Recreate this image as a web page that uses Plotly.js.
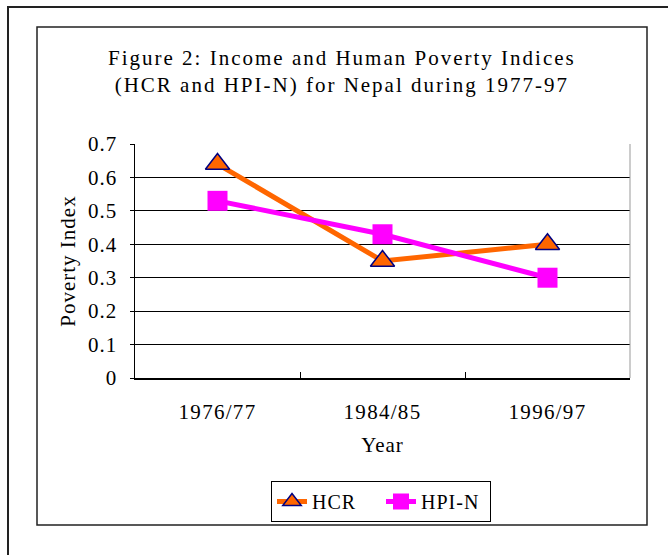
<!DOCTYPE html>
<html>
<head>
<meta charset="utf-8">
<script src="https://cdn.plot.ly/plotly-3.0.1.min.js"></script>
<style>
html,body{margin:0;padding:0;background:#fff;}
#chart{width:668px;height:555px;}
#chart .annotation-text{letter-spacing:2px;}
#chart .xtick text{letter-spacing:1.3px;}
#chart .ytick text{letter-spacing:1px;}
#chart .g-ytitle text, #chart .g-xtitle text{letter-spacing:1px;}
#chart .legendtext{letter-spacing:1px;}
</style>
</head>
<body>
<div id="chart"></div>
<script>
const years = ["1976/77", "1984/85", "1996/97"];
const hcr = [0.64, 0.35, 0.40];
const hpin = [0.53, 0.43, 0.30];
const yTicks = [0, 0.1, 0.2, 0.3, 0.4, 0.5, 0.6, 0.7];
const yTickText = ["0", "0.1", "0.2", "0.3", "0.4", "0.5", "0.6", "0.7"];

const L = 135, R = 630, T = 144, B = 378, W = 668, H = 555;
const px = v => (v - L) / (R - L);
const py = v => (B - v) / (B - T);
const FONT = "Liberation Serif, DejaVu Serif, serif";

const traces = [
  {
    x: years, y: hcr, name: "HCR", type: "scatter", mode: "lines+markers",
    line: {color: "#FF6600", width: 5},
    marker: {symbol: "triangle-up", size: 21, color: "#FF6600", line: {color: "#000080", width: 1.5}}
  },
  {
    x: years, y: hpin, name: "HPI-N", type: "scatter", mode: "lines+markers",
    line: {color: "#FF00FF", width: 5},
    marker: {symbol: "square", size: 20, color: "#FF00FF", line: {color: "#FF00FF", width: 0}}
  }
];

const layout = {
  width: W, height: H,
  margin: {l: L, r: W - R, t: T, b: H - B, pad: 0},
  paper_bgcolor: "#fff", plot_bgcolor: "#fff",
  font: {family: FONT, color: "#000", size: 21},
  showlegend: true,
  legend: {
    orientation: "h", x: px(271), y: py(481), xanchor: "left", yanchor: "top",
    bordercolor: "#000", borderwidth: 1, bgcolor: "#fff",
    font: {family: FONT, size: 20, color: "#000"},
    entrywidth: 64, entrywidthmode: "pixels",
    tracegroupgap: 0
  },
  xaxis: {
    type: "category", range: [-0.5, 2.5],
    showline: true, linecolor: "#000", linewidth: 1.5,
    ticks: "inside", tickson: "boundaries", ticklen: 6, tickcolor: "#000",
    ticklabelstandoff: 14,
    showgrid: false, zeroline: false,
    tickfont: {family: FONT, size: 21},
    title: {text: "Year", font: {family: FONT, size: 21}, standoff: 14},
    fixedrange: true
  },
  yaxis: {
    range: [0, 0.7], tickvals: yTicks, ticktext: yTickText,
    showline: true, linecolor: "#000", linewidth: 1.5,
    ticks: "outside", ticklen: 4, tickcolor: "#000",
    ticklabelstandoff: 8,
    showgrid: true, gridcolor: "#000", gridwidth: 1,
    zeroline: false,
    tickfont: {family: FONT, size: 21},
    title: {text: "Poverty Index", font: {family: FONT, size: 21}, standoff: 9},
    fixedrange: true
  },
  annotations: [
    {
      xref: "paper", yref: "paper", x: px(342), y: py(71),
      xanchor: "center", yanchor: "middle", showarrow: false,
      text: "Figure 2: Income and Human Poverty Indices<br>(HCR and HPI-N) for Nepal during 1977-97",
      font: {family: FONT, size: 21, color: "#000"}, align: "center"
    }
  ],
  shapes: [
    {type: "rect", xref: "paper", yref: "paper", x0: px(8), x1: px(700), y0: py(600), y1: py(7),
     line: {color: "#222", width: 2}, fillcolor: "rgba(0,0,0,0)", layer: "below"},
    {type: "rect", xref: "paper", yref: "paper", x0: px(37), x1: px(647), y0: py(525), y1: py(27),
     line: {color: "#222", width: 1.5}, fillcolor: "rgba(0,0,0,0)", layer: "below"},
    {type: "line", xref: "paper", yref: "paper", x0: 1, x1: 1, y0: 0, y1: 1,
     line: {color: "#999", width: 1}}
  ]
};

Plotly.newPlot("chart", traces, layout, {displayModeBar: false, staticPlot: true});
</script>
</body>
</html>
